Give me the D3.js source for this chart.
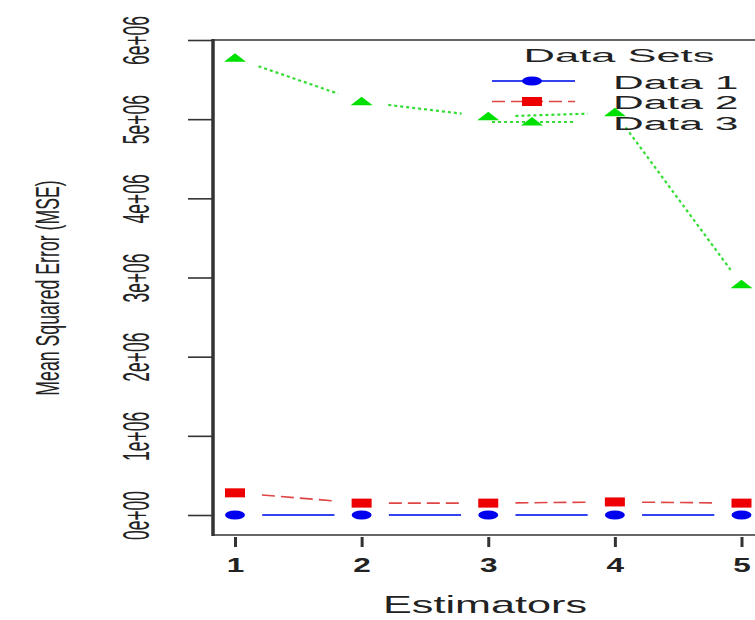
<!DOCTYPE html>
<html>
<head>
<meta charset="utf-8">
<script src="https://cdn.jsdelivr.net/npm/d3@7"></script>
<style>
  body { margin: 0; background: #fff; }
  text { font-family: "Liberation Sans", Arial, sans-serif; fill: #222; }
</style>
</head>
<body>
<div id="chart"></div>
<script>
// values
const estimators = [1, 2, 3, 4, 5];
const data1 = [0, 0, 0, 0, 0];
const data2 = [2.8e5, 1.5e5, 1.5e5, 1.65e5, 1.5e5];
const data3 = [5.77e6, 5.22e6, 5.03e6, 5.08e6, 2.91e6];
const yTicks = [0, 1e6, 2e6, 3e6, 4e6, 5e6, 6e6];
const seriesNames = ['Data 1', 'Data 2', 'Data 3'];
const legendTitle = 'Data Sets';
const xTitle = 'Estimators';
const yTitle = 'Mean Squared Error (MSE)';

const W = 755, H = 620;
const axisX = 213, boxTop = 40, boxBottom = 535;

const svg = d3.select('#chart').append('svg')
  .attr('width', W).attr('height', H);

const x = d3.scaleLinear().domain([1, 5]).range([235, 741.5]);
const y = d3.scaleLinear().domain([0, 6e6]).range([515, 40]);

// R style "6e+06"
function sci(d) {
  if (d === 0) return '0e+00';
  const e = Math.floor(Math.log10(d));
  const m = Math.round(d / Math.pow(10, e));
  return m + 'e+' + String(e).padStart(2, '0');
}

// box
svg.append('line').attr('x1', axisX).attr('x2', W).attr('y1', boxTop).attr('y2', boxTop)
  .attr('stroke', '#666').attr('stroke-width', 2);
svg.append('line').attr('x1', axisX).attr('x2', W).attr('y1', boxBottom).attr('y2', boxBottom)
  .attr('stroke', '#666').attr('stroke-width', 2);
svg.append('line').attr('x1', axisX).attr('x2', axisX).attr('y1', boxTop - 1).attr('y2', boxBottom + 1)
  .attr('stroke', '#333').attr('stroke-width', 3.5);

// y axis
const yAxis = svg.append('g')
  .attr('transform', 'translate(' + axisX + ',0)')
  .call(d3.axisLeft(y).tickValues(yTicks).tickSize(25).tickFormat(sci));
yAxis.select('.domain').remove();
yAxis.selectAll('.tick line').attr('stroke', '#333').attr('stroke-width', 1.6);
yAxis.selectAll('.tick text')
  .attr('x', null).attr('dy', null)
  .attr('transform', 'translate(' + (149 - axisX) + ',0) scale(2.1,1) rotate(-90)')
  .attr('text-anchor', 'middle')
  .style('font-size', '17.5px')
  .attr('fill', '#222');

// x axis
const xAxis = svg.append('g')
  .attr('transform', 'translate(0,' + (boxBottom + 2) + ')')
  .call(d3.axisBottom(x).tickValues(estimators).tickSize(10).tickFormat(d3.format('d')));
xAxis.select('.domain').remove();
xAxis.selectAll('.tick line').attr('stroke', '#333').attr('stroke-width', 3);
xAxis.selectAll('.tick text')
  .attr('y', null).attr('dy', null)
  .attr('transform', 'translate(0,' + (572 - boxBottom - 2) + ') scale(1.5,1)')
  .attr('text-anchor', 'middle')
  .style('font-size', '21px').style('font-weight', 'bold')
  .attr('fill', '#222');

// titles
svg.append('text')
  .attr('transform', 'translate(485,613) scale(1.8,1)')
  .attr('text-anchor', 'middle').style('font-size', '24px')
  .text(xTitle);
svg.append('text')
  .attr('transform', 'translate(59,288) scale(1.85,1) rotate(-90)')
  .attr('text-anchor', 'middle').style('font-size', '17.7px')
  .text(yTitle);

// series styles
const series = [
  { name: seriesNames[0], values: data1, line: '#3344ee', mark: '#0000ee', dash: null, width: 2, shape: 'circle' },
  { name: seriesNames[1], values: data2, line: '#e04545', mark: '#ee0000', dash: '13,6', width: 1.6, shape: 'square' },
  { name: seriesNames[2], values: data3, line: '#33dd33', mark: '#00e000', dash: '3,3', width: 2.2, shape: 'triangle' }
];

// segments with a gap round each point, like R type = "b"
function gapSeg(p, q) {
  const k = 1.7, g = 16;
  const dx = (q[0] - p[0]) / k, dy = q[1] - p[1];
  const L = Math.hypot(dx, dy);
  if (L <= 2 * g) return null;
  const ux = dx / L * g * k, uy = dy / L * g;
  return [p[0] + ux, p[1] + uy, q[0] - ux, q[1] - uy];
}

function drawMark(g, shape, cx, cy, color) {
  if (shape === 'circle') {
    g.append('ellipse').attr('cx', cx).attr('cy', cy).attr('rx', 10).attr('ry', 4.5).attr('fill', color);
  } else if (shape === 'square') {
    g.append('rect').attr('x', cx - 10).attr('y', cy - 4.5).attr('width', 20).attr('height', 9).attr('fill', color);
  } else {
    g.append('path')
      .attr('d', 'M' + (cx - 11) + ',' + (cy + 3.5) + 'L' + (cx + 11) + ',' + (cy + 3.5) + 'L' + cx + ',' + (cy - 5) + 'Z')
      .attr('fill', color);
  }
}

const plot = svg.append('g');
series.forEach(s => {
  const pts = estimators.map((e, i) => [x(e), y(s.values[i])]);
  for (let i = 0; i < pts.length - 1; i++) {
    const seg = gapSeg(pts[i], pts[i + 1]);
    if (!seg) continue;
    plot.append('line')
      .attr('x1', seg[0]).attr('y1', seg[1]).attr('x2', seg[2]).attr('y2', seg[3])
      .attr('stroke', s.line).attr('stroke-width', s.width)
      .attr('stroke-dasharray', s.dash);
  }
  pts.forEach(p => drawMark(plot, s.shape, p[0], p[1], s.mark));
});

// legend
const legend = svg.append('g');
legend.append('text')
  .attr('transform', 'translate(619,61.5) scale(2.35,1)')
  .attr('text-anchor', 'middle').style('font-size', '18.5px')
  .text(legendTitle);
series.forEach((s, i) => {
  const ly = 81 + i * 20.5;
  legend.append('line')
    .attr('x1', 492).attr('x2', 575).attr('y1', ly).attr('y2', ly)
    .attr('stroke', s.line).attr('stroke-width', s.width)
    .attr('stroke-dasharray', s.dash);
  drawMark(legend, s.shape, 532, ly, s.mark);
  legend.append('text')
    .attr('transform', 'translate(613,' + (ly + 7.5) + ') scale(2.3,1)')
    .style('font-size', '18.5px')
    .text(s.name);
});
</script>
</body>
</html>
